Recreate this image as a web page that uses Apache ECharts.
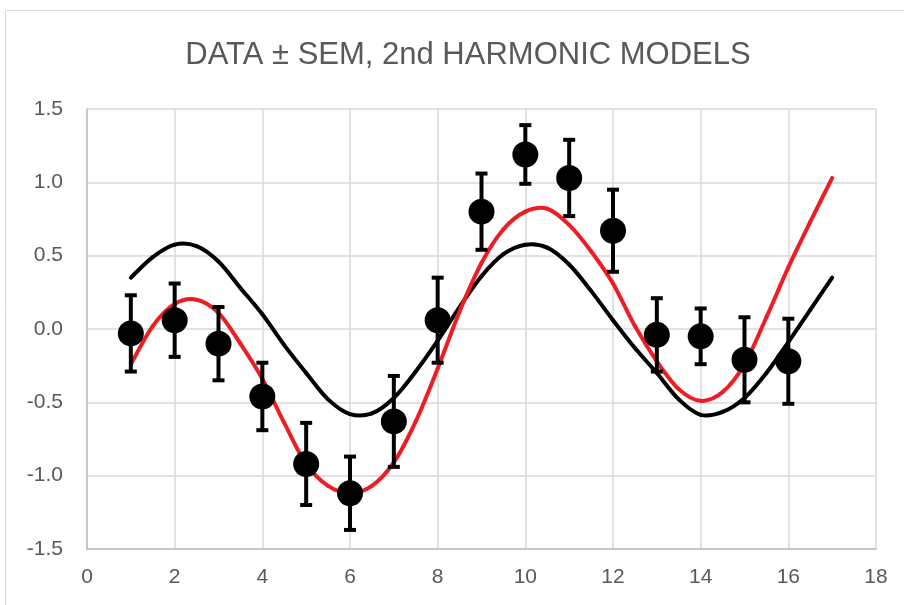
<!DOCTYPE html>
<html>
<head>
<meta charset="utf-8">
<script src="https://cdn.jsdelivr.net/npm/echarts@6/dist/echarts.min.js"></script>
<style>
  html, body { margin: 0; padding: 0; background: #fff; }
  #chart { width: 904px; height: 605px; }
</style>
</head>
<body>
<div id="chart"></div>
<script>
// ---- data ----
const titleText = 'DATA ± SEM, 2nd HARMONIC MODELS';
const pointX = [1, 2, 3, 4, 5, 6, 7, 8, 9, 10, 11, 12, 13, 14, 15, 16];
const pointMean = [-0.03, 0.06, -0.10, -0.46, -0.92, -1.12, -0.63, 0.06, 0.80, 1.19, 1.03, 0.67, -0.04, -0.05, -0.21, -0.22];
const pointSem = [0.26, 0.25, 0.25, 0.23, 0.28, 0.25, 0.31, 0.29, 0.26, 0.20, 0.26, 0.28, 0.25, 0.19, 0.29, 0.29];

const modelX = [1, 1.5, 2, 2.5, 3, 3.5, 4, 4.5, 5, 5.5, 6, 6.5, 7, 7.5, 8, 8.5, 9, 9.5, 10, 10.5, 11, 11.5, 12, 12.5, 13, 13.5, 14, 14.5, 15, 15.5, 16, 16.5, 17];
const blackModel = [0.35, 0.49, 0.575, 0.565, 0.46, 0.28, 0.10, -0.11, -0.30, -0.48, -0.58, -0.575, -0.47, -0.29, -0.08, 0.15, 0.36, 0.51, 0.575, 0.555, 0.44, 0.26, 0.06, -0.13, -0.30, -0.48, -0.585, -0.565, -0.47, -0.30, -0.09, 0.13, 0.35];
const redModel = [-0.24, 0.02, 0.17, 0.20, 0.11, -0.10, -0.34, -0.64, -0.92, -1.07, -1.12, -1.07, -0.91, -0.63, -0.27, 0.12, 0.45, 0.68, 0.80, 0.82, 0.71, 0.53, 0.31, 0.02, -0.22, -0.41, -0.49, -0.43, -0.24, 0.08, 0.42, 0.73, 1.03];

const xTicks = { min: 0, max: 18, interval: 2 };
const yTicks = { min: -1.5, max: 1.5, interval: 0.5 };

// ---- chart ----
const chart = echarts.init(document.getElementById('chart'), null, { renderer: 'canvas' });
const textColor = '#595959';
const fontFam = '"Liberation Sans", Arial, sans-serif';

const pointData = pointX.map((x, i) => [x, pointMean[i], pointSem[i]]);

// smooth curve through the read values, drawn segment by segment via the axes
function splineSeries(name, xs, ys, color, z) {
  const n = xs.length;
  return {
    name: name, type: 'custom', z: z,
    data: xs.map((x, i) => [x, ys[i]]),
    encode: { x: 0, y: 1 },
    renderItem: function (params, api) {
      const i = params.dataIndex;
      if (i >= n - 1) return { type: 'group', children: [] };
      const p = k => api.coord([xs[Math.max(0, Math.min(n - 1, k))], ys[Math.max(0, Math.min(n - 1, k))]]);
      const p0 = p(i - 1), p1 = p(i), p2 = p(i + 1), p3 = p(i + 2);
      const t = 6;
      return {
        type: 'bezierCurve',
        shape: {
          x1: p1[0], y1: p1[1], x2: p2[0], y2: p2[1],
          cpx1: p1[0] + (p2[0] - p0[0]) / t, cpy1: p1[1] + (p2[1] - p0[1]) / t,
          cpx2: p2[0] - (p3[0] - p1[0]) / t, cpy2: p2[1] - (p3[1] - p1[1]) / t
        },
        style: { stroke: color, lineWidth: 4, fill: null, lineCap: 'round' }
      };
    }
  };
}

chart.setOption({
  animation: false,
  backgroundColor: '#fff',
  title: {
    text: titleText,
    left: 463,
    top: 35,
    textAlign: 'center',
    textStyle: { color: textColor, fontFamily: fontFam, fontSize: 31, fontWeight: 'normal' }
  },
  graphic: [{
    type: 'rect',
    shape: { x: 5.5, y: 10.5, width: 1000, height: 1000 },
    style: { fill: 'none', stroke: '#d9d9d9', lineWidth: 1 },
    silent: true
  }],
  grid: { left: 87, top: 109, width: 789, height: 440, containLabel: false },
  xAxis: {
    type: 'value',
    min: xTicks.min, max: xTicks.max, interval: xTicks.interval,
    axisLine: { show: true, onZero: false, lineStyle: { color: '#bfbfbf', width: 1.5 } },
    axisTick: { show: false },
    splitLine: { show: true, lineStyle: { color: '#d9d9d9', width: 1.5 } },
    axisLabel: { color: textColor, fontFamily: fontFam, fontSize: 21, margin: 18 }
  },
  yAxis: {
    type: 'value',
    min: yTicks.min, max: yTicks.max, interval: yTicks.interval,
    axisLine: { show: true, onZero: false, lineStyle: { color: '#bfbfbf', width: 1.5 } },
    axisTick: { show: false },
    splitLine: { show: true, lineStyle: { color: '#d9d9d9', width: 1.5 } },
    axisLabel: {
      color: textColor, fontFamily: fontFam, fontSize: 21, margin: 24,
      formatter: v => v.toFixed(1)
    }
  },
  series: [
    splineSeries('model2', modelX, blackModel, '#000000', 2),
    splineSeries('model1', modelX, redModel, '#ee1d24', 3),
    {
      name: 'sem', type: 'custom', z: 4,
      data: pointData,
      encode: { x: 0, y: 1 },
      renderItem: function (params, api) {
        const x = api.value(0), m = api.value(1), s = api.value(2);
        const top = api.coord([x, m + s]);
        const bot = api.coord([x, m - s]);
        const hw = 6;
        const st = { stroke: '#000', lineWidth: 4 };
        return {
          type: 'group',
          children: [
            { type: 'line', shape: { x1: top[0], y1: top[1], x2: bot[0], y2: bot[1] }, style: st },
            { type: 'line', shape: { x1: top[0] - hw, y1: top[1], x2: top[0] + hw, y2: top[1] }, style: st },
            { type: 'line', shape: { x1: bot[0] - hw, y1: bot[1], x2: bot[0] + hw, y2: bot[1] }, style: st }
          ]
        };
      }
    },
    {
      name: 'data', type: 'scatter', z: 5,
      data: pointData.map(d => [d[0], d[1]]),
      symbol: 'circle', symbolSize: 26,
      itemStyle: { color: '#000000', opacity: 1 }
    }
  ]
});
</script>
</body>
</html>
